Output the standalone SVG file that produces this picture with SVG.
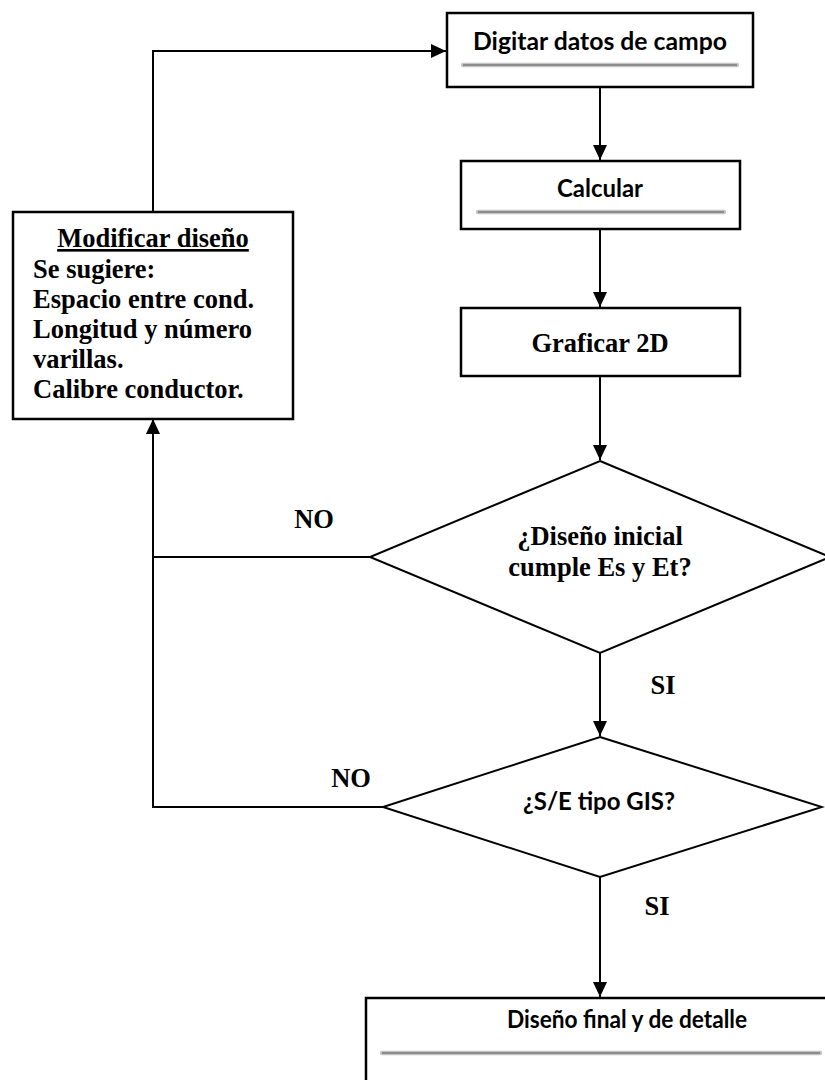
<svg xmlns="http://www.w3.org/2000/svg" width="825" height="1080" viewBox="0 0 825 1080">
<style>
.box{fill:#fff;stroke:#000;stroke-width:2.5}
.dia{fill:#fff;stroke:#000;stroke-width:2}
.con{fill:none;stroke:#000;stroke-width:2}
.sans{font-family:Lato,"Open Sans",sans-serif;font-weight:bold;font-size:25px;fill:#000}
.serif{font-family:"Liberation Serif","Times New Roman",serif;font-weight:bold;font-size:26.5px;fill:#000}
.gl{stroke:#c4c4c4;stroke-width:4.5;stroke-linecap:round}
.gc{stroke:#8c8c8c;stroke-width:2}
</style>
<defs>
<marker id="ah" markerUnits="userSpaceOnUse" markerWidth="16" markerHeight="14" refX="15" refY="7" orient="auto">
<path d="M0,0 L15,7 L0,14 Z" fill="#000"/>
</marker>
</defs>
<rect width="825" height="1080" fill="#fff"/>
<g id="connectors">
<path class="con" d="M600,87 V160" marker-end="url(#ah)"/>
<path class="con" d="M600,229 V307" marker-end="url(#ah)"/>
<path class="con" d="M600,376 V460" marker-end="url(#ah)"/>
<path class="con" d="M600,653 V736" marker-end="url(#ah)"/>
<path class="con" d="M600,877 V997" marker-end="url(#ah)"/>
<path class="con" d="M370,557 H153"/>
<path class="con" d="M383,807 H153 V419" marker-end="url(#ah)"/>
<path class="con" d="M153,212 V51 H446" marker-end="url(#ah)"/>
<text class="serif" x="314" y="528" text-anchor="middle">NO</text>
<text class="serif" x="351" y="787" text-anchor="middle">NO</text>
<text class="serif" x="663" y="694" text-anchor="middle">SI</text>
<text class="serif" x="657" y="915" text-anchor="middle">SI</text>
</g>
<g id="digitar">
<rect class="box" x="447" y="13" width="306" height="74"/>
<text class="sans" x="600" y="50" text-anchor="middle" textLength="254" lengthAdjust="spacingAndGlyphs">Digitar datos de campo</text>
<line class="gl" x1="463" y1="65" x2="737" y2="65"/>
<line class="gc" x1="463" y1="65" x2="737" y2="65"/>
</g>
<g id="calcular">
<rect class="box" x="461" y="161" width="279" height="68"/>
<text class="sans" x="600" y="197" text-anchor="middle" textLength="86" lengthAdjust="spacingAndGlyphs">Calcular</text>
<line class="gl" x1="478" y1="212" x2="724" y2="212"/>
<line class="gc" x1="478" y1="212" x2="724" y2="212"/>
</g>
<g id="graficar">
<rect class="box" x="461" y="308" width="279" height="68"/>
<text class="serif" x="600" y="352" text-anchor="middle">Graficar 2D</text>
</g>
<g id="modificar">
<rect class="box" x="13" y="212" width="280" height="207"/>
<text class="serif" x="153" y="247" text-anchor="middle" text-decoration="underline">Modificar diseño</text>
<text class="serif" x="33" y="278">Se sugiere:</text>
<text class="serif" x="33" y="308">Espacio entre cond.</text>
<text class="serif" x="33" y="338">Longitud y número</text>
<text class="serif" x="33" y="368">varillas.</text>
<text class="serif" x="33" y="398">Calibre conductor.</text>
</g>
<g id="decision1">
<polygon class="dia" points="600,461 830,557 600,653 370,557"/>
<text class="serif" x="600" y="545" text-anchor="middle">¿Diseño inicial</text>
<text class="serif" x="600" y="576" text-anchor="middle">cumple Es y Et?</text>
</g>
<g id="decision2">
<polygon class="dia" points="600,737 822,807 600,877 383,807"/>
<text class="sans" x="599" y="810" text-anchor="middle" textLength="152" lengthAdjust="spacingAndGlyphs">¿S/E tipo GIS?</text>
</g>
<g id="final">
<rect class="box" x="366" y="998" width="530" height="100"/>
<text class="sans" x="627" y="1028" text-anchor="middle" textLength="240" lengthAdjust="spacingAndGlyphs">Diseño final y de detalle</text>
<line class="gl" x1="382" y1="1053" x2="820" y2="1053"/>
<line class="gc" x1="382" y1="1053" x2="820" y2="1053"/>
</g>
</svg>
